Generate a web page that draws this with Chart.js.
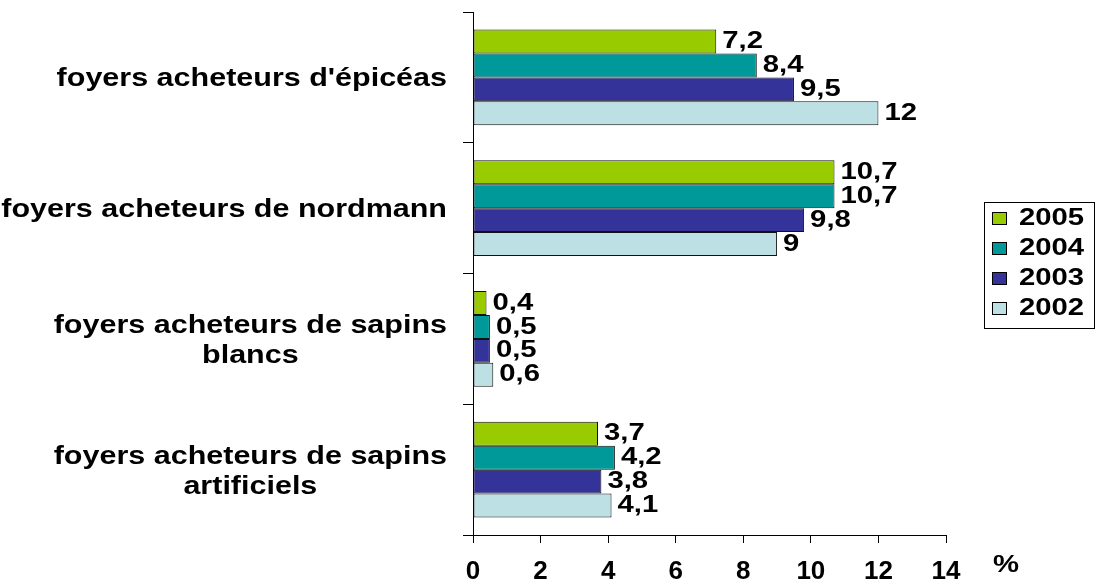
<!DOCTYPE html>
<html>
<head>
<meta charset="utf-8">
<script src="https://cdn.jsdelivr.net/npm/chart.js@4.4.1/dist/chart.umd.min.js"></script>
<style>
  html, body { margin: 0; padding: 0; background: #fff; }
  #wrap { width: 1101px; height: 586px; }
</style>
</head>
<body>
<div id="wrap"><canvas id="myChart"></canvas></div>
<script>
  'use strict'

  // Data
  const categories = [
    ['foyers acheteurs d\'épicéas'],
    ['foyers acheteurs de nordmann'],
    ['foyers acheteurs de sapins', 'blancs'],
    ['foyers acheteurs de sapins', 'artificiels']
  ]
  const years = ['2005', '2004', '2003', '2002']
  const values2005 = [7.2, 10.7, 0.4, 3.7]
  const values2004 = [8.4, 10.7, 0.5, 4.2]
  const values2003 = [9.5, 9.8, 0.5, 3.8]
  const values2002 = [12, 9, 0.6, 4.1]
  const xTicks = [0, 2, 4, 6, 8, 10, 12, 14]
  const unitLabel = '%'

  const colors = ['#99cc00', '#009999', '#333399', '#bde0e4']
  const FONT = '"Liberation Sans", Arial, sans-serif'
  const SX = 1.22 // text in the original is stretched a bit wide

  const wideText = (ctx, text, x, y, align, baseline) => {
    ctx.save()
    ctx.translate(x, y)
    ctx.scale(SX, 1)
    ctx.textAlign = align
    ctx.textBaseline = baseline
    ctx.fillText(text, 0, 0)
    ctx.restore()
  }

  const fmt = v => String(v).replace('.', ',')

  const textPlugin = {
    id: 'textPlugin',
    afterDraw (chart) {
      const ctx = chart.ctx
      const yScale = chart.scales.y
      const xScale = chart.scales.x
      ctx.save()
      ctx.fillStyle = '#000'

      // category labels: block right aligned, lines centred in the block
      ctx.font = 'bold 25px ' + FONT
      chart.data.labels.forEach((lines, i) => {
        const cy = yScale.getPixelForValue(i)
        const w = Math.max(...lines.map(l => ctx.measureText(l).width)) * SX
        const cx = yScale.right - 26 - w / 2
        lines.forEach((l, j) => {
          wideText(ctx, l, cx, cy + 9 - 15 * (lines.length - 1) + 30 * j, 'center', 'alphabetic')
        })
      })

      // value labels
      ctx.font = 'bold 24px ' + FONT
      chart.data.datasets.forEach((ds, di) => {
        const meta = chart.getDatasetMeta(di)
        meta.data.forEach((bar, i) => {
          wideText(ctx, fmt(ds.data[i]), bar.x + 6, bar.y, 'left', 'middle')
        })
      })

      // unit label
      wideText(ctx, unitLabel, xScale.right + 60, 565, 'center', 'middle')

      // legend
      const lx = 984, ly = 202, lw = 110, lh = 126
      ctx.strokeStyle = '#000'
      ctx.lineWidth = 1
      ctx.strokeRect(lx + 0.5, ly + 0.5, lw, lh)
      chart.data.datasets.forEach((ds, di) => {
        const ey = ly + 16 + di * 30
        ctx.fillStyle = ds.backgroundColor
        ctx.fillRect(lx + 8, ey - 6, 15, 13)
        ctx.strokeRect(lx + 8.5, ey - 5.5, 14, 12)
        ctx.fillStyle = '#000'
        wideText(ctx, ds.label, lx + 35, ey, 'left', 'middle')
      })
      ctx.restore()
    }
  }

  const seriesValues = [values2005, values2004, values2003, values2002]

  const ctx = document.getElementById('myChart')
  // eslint-disable-next-line no-unused-vars
  const myChart = new Chart(ctx, {
    type: 'bar',
    data: {
      labels: categories,
      datasets: years.map((yr, i) => ({
        label: yr,
        data: seriesValues[i],
        backgroundColor: colors[i],
        borderColor: '#111',
        borderWidth: 1,
        borderSkipped: false,
        barPercentage: 1,
        categoryPercentage: 0.732
      }))
    },
    options: {
      indexAxis: 'y',
      responsive: true,
      maintainAspectRatio: false,
      animation: false,
      layout: {
        padding: { top: 12, right: 155, left: 0, bottom: 0 }
      },
      scales: {
        x: {
          min: 0,
          max: 14,
          afterFit (scale) { scale.height = 51 },
          afterBuildTicks (scale) { scale.ticks = xTicks.map(v => ({ value: v })) },
          grid: {
            drawOnChartArea: false,
            drawTicks: true,
            tickLength: 8,
            color: '#000'
          },
          border: { display: true, color: '#000' },
          ticks: {
            color: '#000',
            padding: 13,
            font: { family: FONT, size: 26, weight: 'bold' }
          }
        },
        y: {
          afterFit (scale) { scale.width = 473 },
          grid: {
            offset: true,
            drawOnChartArea: false,
            drawTicks: true,
            tickLength: 10,
            color: '#000'
          },
          border: { display: true, color: '#000' },
          ticks: { display: false }
        }
      },
      plugins: {
        legend: { display: false },
        tooltip: { enabled: false }
      }
    },
    plugins: [textPlugin]
  })
</script>
</body>
</html>
